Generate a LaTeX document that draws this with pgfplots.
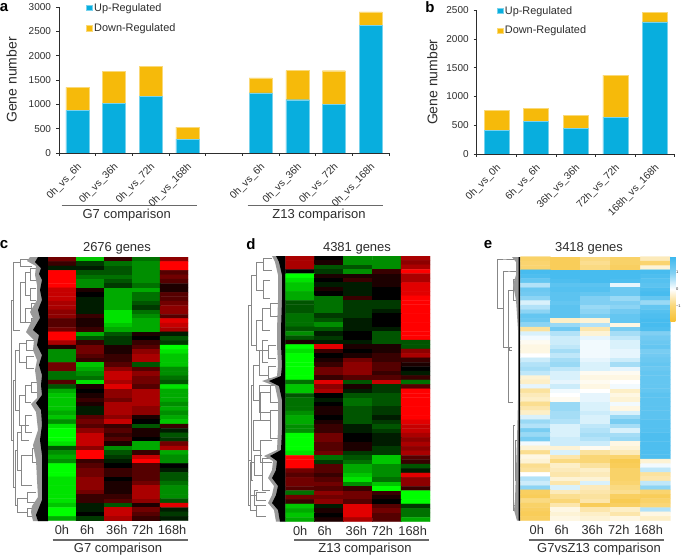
\documentclass[border=0pt]{standalone}
\usepackage{fontspec}
\setmainfont{Liberation Sans}
\usepackage{pgfplots}
\pgfplotsset{compat=1.18}
\definecolor{upblue}{RGB}{8,174,222}
\definecolor{downyel}{RGB}{246,186,10}
\definecolor{ink}{RGB}{45,45,45}
\definecolor{rulegray}{RGB}{105,105,105}
\definecolor{treegray}{RGB}{135,135,135}
\newcommand{\fs}[1]{\fontsize{#1}{#1}\selectfont}
% dendrogram bracket: x left, y top, y bottom, x right (all in image pixels)
\newcommand{\br}[4]{\addplot[treegray,line width=.5pt] coordinates {(#4,#2) (#1,#2) (#1,#3) (#4,#3)};}
\pgfplotsset{
  barpanel/.style={
    scale only axis, ybar stacked, ymin=0, axis x line*=bottom, axis y line*=left,
    axis line style={ink,line width=.6pt}, tick style={ink,line width=.6pt},
    major tick length=3pt, minor tick length=3pt, tick align=outside,
    major x tick style={draw=none},
    tick label style={font=\fs{10},text=ink},
    /pgf/number format/assume math mode=true, /pgf/number format/1000 sep={},
    ylabel style={font=\fs{14},text=ink},
    ylabel={Gene number},
    yticklabel style={xshift=-1.5pt},
    xticklabel style={font=\fs{10.2},rotate=45,anchor=north east,inner sep=1pt,yshift=-3pt,xshift=-4pt},
    legend image code/.code={\fill[##1] (0pt,-2.8pt) rectangle (5.6pt,2.8pt);},
    legend cell align=left,
    legend style={draw=none,fill=none,inner sep=0pt,font=\fs{10.9},text=ink,
      anchor=north west,/tikz/every even column/.style={column sep=0pt}},
  },
  heat/.style={
    scale only axis, axis line style={draw=none}, major tick length=0pt,
    ytick=\empty, y dir=reverse, xmin=-0.5, xmax=4.5,
    enlargelimits=false, axis on top=false,
    xticklabels={0h,6h,36h,72h,168h},
    tick label style={font=\fs{12.8},text=ink},
    xticklabel style={yshift=-2pt,inner sep=2pt},
  },
}
\pgfplotsset{
  colormap={rg}{rgb255=(0,255,0) rgb255=(0,0,0) rgb255=(255,0,0)},
  colormap={by}{rgb255=(247,192,50) rgb255=(250,215,120) rgb255=(255,255,255) rgb255=(130,208,243) rgb255=(60,184,238)},
}
\begin{document}
\begin{tikzpicture}
\path[use as bounding box,fill=white] (0,0) rectangle (685pt,556pt);

% dendrograms, rules and panel text, in image pixels
\begin{axis}[at={(0,0)},anchor=south west,scale only axis,width=685pt,height=556pt,
  xmin=0,xmax=685,ymin=0,ymax=556,y dir=reverse,hide axis,clip=false]
% c
\br{11}{300}{440}{13}
\br{13}{262}{330}{20}
\br{20}{259}{266}{32}
\br{20}{282}{322}{25}
\br{25}{272}{295}{30}
\br{30}{268}{280}{36}
\br{30}{288}{300}{36}
\br{25}{308}{322}{31}
\br{31}{303}{314}{37}
\br{31}{318}{326}{37}
\br{13}{380}{487}{15}
\br{15}{350}{410}{19}
\br{19}{343}{362}{26}
\br{26}{340}{350}{34}
\br{26}{356}{368}{34}
\br{19}{395}{425}{25}
\br{25}{385}{402}{31}
\br{31}{382}{392}{37}
\br{25}{415}{432}{32}
\br{15}{450}{505}{17}
\br{17}{432}{470}{21}
\br{21}{425}{440}{29}
\br{21}{455}{485}{32}
\br{32}{448}{462}{38}
\br{17}{498}{512}{27}
\br{27}{492}{502}{36}
\br{27}{508}{516}{36}
% d
\br{248}{305}{460}{251}
\br{251}{275}{345}{256}
\br{256}{262}{290}{263}
\br{263}{258}{270}{272}
\br{263}{280}{298}{270}
\br{256}{320}{350}{262}
\br{262}{308}{330}{270}
\br{270}{303}{316}{278}
\br{262}{340}{362}{268}
\br{251}{385}{480}{253}
\br{253}{365}{400}{259}
\br{259}{350}{375}{268}
\br{268}{345}{358}{276}
\br{268}{366}{378}{276}
\br{259}{385}{412}{270}
\br{253}{420}{450}{260}
\br{260}{392}{420}{270}
\br{270}{385}{402}{278}
\br{270}{410}{438}{278}
\br{260}{440}{462}{272}
\br{248}{460}{505}{250}
\br{250}{462}{495}{254}
\br{254}{455}{475}{262}
\br{262}{458}{490}{270}
\br{254}{490}{505}{258}
\br{250}{495}{510}{256}
\br{256}{492}{500}{266}
\br{256}{505}{516}{266}
% e
\br{497.3}{259}{308}{503}
\br{503}{271}{347}{508}
\br{497.3}{259}{259}{516}
\br{508}{290}{402}{513}
\br{513}{279}{300}{518}
\br{503}{271}{271}{518}
\br{509}{347}{350}{512}
\br{513}{425}{505}{515}
\br{515}{440}{480}{518}
\br{513}{505}{510}{516}
% leaf fans of c, d, e
\addplot[fill=black!40,draw=none] coordinates {(48,257)(30,257)(27,261)(36,266)(35,275)(37,285)(37,300)(30,312)(33,318)(26,332)(34,340)(33,350)(37,360)(35,370)(37,385)(37,398)(31,404)(36,412)(38,430)(33,445)(36,460)(37,480)(38,497)(32,506)(31,512)(33,521)(48,521)} -- cycle;
\addplot[fill=black,draw=none] coordinates {(48,257)(38,257)(35,262)(41,268)(39,274)(42,280)(40,290)(42,300)(38,310)(40,318)(33,330)(39,335)(37,345)(42,355)(39,365)(42,375)(41,385)(42,395)(36,403)(41,410)(42,425)(40,440)(42,455)(42,470)(42,485)(42,500)(38,510)(36,515)(38,521)(48,521)} -- cycle;
\addplot[fill=black!40,draw=none] coordinates {(285.7,256)(272,256)(275,262)(278,275)(278,300)(277,330)(277,345)(278,365)(277,376)(262,381)(275,386)(278,400)(278,430)(277,450)(264,456)(273,461)(272,470)(268,478)(274,486)(272,495)(268,503)(274,510)(276,521.7)(285.7,521.7)} -- cycle;
\addplot[fill=black,draw=none] coordinates {(285.7,256)(276,256)(279,262)(282,275)(282,300)(281,330)(281,345)(282,365)(281,376)(269,381)(279,386)(282,400)(282,430)(281,450)(270,456)(277,461)(276,470)(272,478)(278,486)(276,495)(272,503)(278,510)(280,521.7)(285.7,521.7)} -- cycle;
\addplot[fill=black!40,draw=none] coordinates {(520.3,257)(512,257)(516,262)(516,275)(513,285)(516,300)(518,330)(518,400)(517,440)(516,470)(515,500)(514,510)(517,520.7)(520.3,520.7)} -- cycle;
\addplot[fill=black,draw=none] coordinates {(520.3,257)(518.5,257)(518.5,300)(518.5,400)(518.5,520.7)(520.3,520.7)} -- cycle;
% rules under the panels
\addplot[rulegray,line width=1.2pt] coordinates {(61.7,205.7) (196.7,205.7)};
\addplot[rulegray,line width=1.2pt] coordinates {(247.7,205.7) (382.7,205.7)};
\addplot[rulegray,line width=1.2pt] coordinates {(52.7,540) (187.7,540)};
\addplot[rulegray,line width=1.2pt] coordinates {(294,540) (429,540)};
\addplot[rulegray,line width=1.2pt] coordinates {(528.7,540) (663.7,540)};
\node[font=\fs{13},text=ink] at (axis cs:126.7,215.5) {G7 comparison};
\node[font=\fs{13},text=ink] at (axis cs:319,215.5) {Z13 comparison};
\node[font=\fs{13},text=ink] at (axis cs:118,549.5) {G7 comparison};
\node[font=\fs{13},text=ink] at (axis cs:365,549.5) {Z13 comparison};
\node[font=\fs{13},text=ink] at (axis cs:599,549.5) {G7vsZ13 comparison};
\node[font=\fs{13},text=ink] at (axis cs:117,248) {2676 genes};
\node[font=\fs{13},text=ink] at (axis cs:357,248) {4381 genes};
\node[font=\fs{13},text=ink] at (axis cs:589,248) {3418 genes};
\node[font=\bfseries\fs{15}] at (axis cs:4,8) {a};
\node[font=\bfseries\fs{15}] at (axis cs:430,7) {b};
\node[font=\bfseries\fs{15}] at (axis cs:4,245) {c};
\node[font=\bfseries\fs{15}] at (axis cs:251,244) {d};
\node[font=\bfseries\fs{15}] at (axis cs:488,245) {e};
\end{axis}

% a
\begin{axis}[barpanel,at={(59pt,403pt)},anchor=south west,width=330pt,height=146pt,
  ymax=3000,ytick={0,500,...,3000},xmin=-0.5,xmax=8.5,bar width=23pt,
  ylabel style={yshift=5pt},
  xtick={0,1,2,3,5,6,7,8},
  xticklabels={0h\_vs\_6h,0h\_vs\_36h,0h\_vs\_72h,0h\_vs\_168h,0h\_vs\_6h,0h\_vs\_36h,0h\_vs\_72h,0h\_vs\_168h},
  minor xtick={-0.5,0.5,...,8.5},
  legend style={at={(27pt,152pt)},row sep=7pt}]
\addplot[fill=upblue,draw=upblue!55!white,line width=.4pt] coordinates {(0,870) (1,1020) (2,1160) (3,285) (5,1235) (6,1095) (7,1005) (8,2620)};
\addplot[fill=downyel,draw=downyel!55!white,line width=.4pt] coordinates {(0,480) (1,660) (2,615) (3,245) (5,310) (6,600) (7,685) (8,280)};
\legend{Up-Regulated,Down-Regulated}
\end{axis}

% b
\begin{axis}[barpanel,at={(476.7pt,402pt)},anchor=south west,width=198pt,height=143.7pt,
  ymax=2500,ytick={0,500,...,2500},xmin=-0.5,xmax=4.5,bar width=25pt,
  ylabel style={yshift=2pt},
  xtick={0,1,2,3,4},
  xticklabels={0h\_vs\_0h,6h\_vs\_6h,36h\_vs\_36h,72h\_vs\_72h,168h\_vs\_168h},
  minor xtick={-0.5,0.5,...,4.5},
  legend style={at={(20pt,150pt)},row sep=6.5pt}]
\addplot[fill=upblue,draw=upblue!55!white,line width=.4pt] coordinates {(0,410) (1,565) (2,445) (3,640) (4,2300)};
\addplot[fill=downyel,draw=downyel!55!white,line width=.4pt] coordinates {(0,350) (1,225) (2,230) (3,730) (4,165)};
\legend{Up-Regulated,Down-Regulated}
\end{axis}

% c
\begin{axis}[heat,at={(48pt,35.3pt)},anchor=south west,width=140pt,height=263.5pt,
  ymin=-0.5,ymax=59.5,colormap name=rg,point meta min=-9,point meta max=9,
  xtick={0,0.9,1.96,2.88,3.93}]
\addplot[matrix plot*,mesh/cols=5,point meta=explicit] table[header=false,row sep=\\,x expr={mod(\coordindex,5)},y expr={floor((\coordindex+0.5)/5)},meta index=0] {
4\\-7\\2\\-4\\5\\
2\\-2\\-4\\-5\\9\\
-1\\-1\\-3\\-5\\9\\
9\\-3\\-3\\-5\\3\\
9\\-4\\-4\\-5\\4\\
9\\-5\\-3\\-5\\3\\
9\\-5\\-2\\-4\\1\\
7\\1\\-6\\-6\\1\\
7\\0\\-6\\-4\\3\\
7\\-1\\-6\\-4\\3\\
6\\-1\\-6\\-3\\4\\
6\\-1\\-6\\-2\\5\\
5\\-1\\-8\\-4\\5\\
5\\2\\-8\\-5\\3\\
3\\1\\-8\\-6\\8\\
3\\1\\-7\\-6\\7\\
4\\2\\-6\\-6\\6\\
9\\-6\\-3\\1\\-1\\
9\\-3\\-2\\0\\-3\\
6\\2\\-2\\2\\-2\\
1\\4\\1\\3\\-9\\
-5\\4\\1\\5\\-8\\
-5\\3\\2\\6\\-7\\
-5\\2\\2\\6\\-7\\
4\\-7\\3\\-3\\-7\\
4\\-6\\5\\3\\-5\\
-4\\-5\\7\\5\\-5\\
-4\\-4\\7\\4\\-4\\
3\\-8\\6\\4\\-3\\
-3\\1\\8\\3\\-8\\
-6\\0\\5\\6\\-6\\
-7\\1\\5\\6\\-6\\
-7\\2\\4\\6\\-6\\
-7\\1\\6\\6\\-5\\
-7\\-1\\6\\5\\-6\\
-6\\-1\\6\\5\\-5\\
-7\\3\\5\\1\\-6\\
-5\\4\\7\\0\\-7\\
-8\\3\\2\\-3\\2\\
-9\\5\\3\\1\\-1\\
-9\\7\\2\\1\\-3\\
-9\\7\\3\\0\\-2\\
-8\\7\\1\\-6\\4\\
-3\\5\\-5\\-6\\6\\
-5\\9\\-3\\2\\-6\\
-6\\9\\-2\\7\\-5\\
-5\\2\\-1\\9\\-5\\
-9\\3\\0\\3\\0\\
-9\\4\\2\\3\\-1\\
-9\\4\\2\\3\\-3\\
-8\\5\\0\\3\\-3\\
-8\\5\\1\\4\\-4\\
-8\\5\\1\\6\\-5\\
-8\\4\\1\\6\\-5\\
-8\\2\\2\\6\\-5\\
-8\\2\\3\\5\\-3\\
-7\\-1\\-3\\1\\8\\
-9\\-1\\7\\4\\-1\\
-9\\0\\7\\3\\-2\\
-6\\-2\\6\\2\\-1\\
};
\end{axis}

% d
\begin{axis}[heat,at={(285.7pt,34.3pt)},anchor=south west,width=144.3pt,height=265.7pt,
  ymin=-0.5,ymax=59.5,colormap name=rg,point meta min=-9,point meta max=9,
  xtick={0,0.85,1.95,2.85,3.9}]
\addplot[matrix plot*,mesh/cols=5,point meta=explicit] table[header=false,row sep=\\,x expr={mod(\coordindex,5)},y expr={floor((\coordindex+0.5)/5)},meta index=0] {
6\\0\\-5\\-5\\6\\
6\\1\\-5\\-5\\5\\
6\\-3\\-3\\-5\\6\\
0\\-2\\-5\\2\\9\\
-9\\1\\1\\1\\6\\
-8\\0\\2\\1\\6\\
-7\\-1\\-1\\1\\8\\
-7\\1\\-1\\0\\8\\
-6\\0\\-1\\0\\8\\
-6\\-4\\2\\0\\9\\
-3\\-4\\-2\\-2\\9\\
-3\\-4\\-2\\-2\\9\\
-3\\-4\\-2\\-1\\9\\
-4\\-2\\-2\\0\\9\\
-4\\-3\\-1\\0\\9\\
-4\\-5\\-1\\0\\9\\
-3\\-3\\-1\\-1\\9\\
-5\\-1\\0\\-3\\9\\
-3\\-2\\0\\-3\\9\\
1\\-1\\-1\\-3\\-3\\
-9\\8\\1\\1\\-3\\
-8\\2\\0\\1\\5\\
-9\\0\\1\\2\\6\\
-9\\1\\4\\2\\2\\
-9\\2\\5\\3\\1\\
-9\\4\\5\\3\\0\\
-9\\4\\5\\2\\-1\\
-9\\2\\3\\3\\2\\
-4\\8\\-3\\7\\-4\\
-7\\5\\1\\-2\\3\\
-7\\6\\-1\\-2\\9\\
-3\\0\\-3\\-3\\9\\
-4\\-1\\-4\\-3\\9\\
-4\\0\\-4\\-3\\9\\
-4\\1\\-3\\-2\\9\\
-5\\1\\-3\\-2\\9\\
-6\\0\\-3\\-1\\9\\
-6\\1\\-3\\-2\\8\\
-5\\2\\-1\\-3\\7\\
-5\\2\\-1\\-2\\7\\
-9\\4\\0\\-1\\6\\
-9\\4\\0\\-1\\5\\
-9\\3\\1\\-1\\6\\
-9\\3\\1\\-2\\5\\
-8\\4\\-2\\-2\\6\\
9\\-4\\-3\\-7\\3\\
9\\-2\\-4\\-7\\2\\
9\\3\\-6\\-5\\-3\\
4\\3\\-6\\-5\\-1\\
3\\2\\-7\\-5\\8\\
4\\3\\-8\\-4\\5\\
4\\4\\-5\\-7\\5\\
3\\3\\2\\-9\\2\\
-4\\5\\4\\2\\-9\\
4\\4\\4\\1\\-9\\
2\\5\\3\\0\\-9\\
-7\\-1\\8\\3\\-2\\
-6\\1\\8\\4\\-4\\
-7\\0\\8\\3\\-4\\
-6\\1\\6\\3\\-6\\
};
\end{axis}

% e
\begin{axis}[heat,at={(520.3pt,35.3pt)},anchor=south west,width=150pt,height=264pt,
  ymin=-0.5,ymax=59.5,colormap name=by,point meta min=-19.5,point meta max=19.5,
  xtick={0.05,0.88,1.9,2.78,3.78},
  colorbar,colorbar style={at={(1,1)},anchor=north west,xshift=3pt,scale only axis,
    width=5pt,height=65pt,ytick={-10,0,10},yticklabels={−1,0,1},
    yticklabel pos=right,axis line style={draw=none},major tick length=0pt,
    tick label style={font=\fs{4},text=ink,inner sep=.5pt}}]
\addplot[matrix plot*,mesh/cols=5,point meta=explicit] table[header=false,row sep=\\,x expr={mod(\coordindex,5)},y expr={floor((\coordindex+0.5)/5)},meta index=0] {
-12\\-14\\-9\\-12\\-5\\
-11\\-14\\-8\\-12\\-11\\
-11\\-14\\-9\\-13\\-3\\
18\\18\\18\\18\\18\\
17\\18\\18\\18\\17\\
14\\17\\18\\17\\16\\
6\\15\\15\\2\\15\\
13\\16\\16\\13\\17\\
12\\15\\14\\13\\18\\
9\\15\\10\\8\\14\\
3\\14\\10\\10\\8\\
6\\15\\8\\9\\14\\
9\\15\\9\\12\\16\\
14\\15\\11\\14\\17\\
13\\-4\\-3\\14\\18\\
9\\8\\6\\-2\\18\\
-7\\12\\-6\\11\\17\\
3\\6\\-3\\7\\10\\
1\\4\\2\\5\\12\\
-1\\4\\1\\3\\13\\
-2\\5\\1\\3\\14\\
-2\\7\\1\\2\\11\\
0\\5\\1\\2\\12\\
4\\7\\2\\4\\13\\
6\\8\\3\\7\\14\\
7\\5\\3\\2\\13\\
5\\3\\-1\\-1\\14\\
-3\\3\\-2\\-2\\14\\
-4\\2\\-1\\0\\14\\
2\\4\\-2\\1\\14\\
-7\\1\\0\\-4\\14\\
-5\\0\\2\\-2\\15\\
-4\\-1\\2\\-3\\15\\
-8\\8\\3\\1\\15\\
-6\\8\\3\\-2\\15\\
-4\\7\\4\\3\\15\\
3\\7\\3\\8\\15\\
8\\6\\3\\11\\16\\
6\\3\\5\\7\\16\\
11\\3\\6\\3\\16\\
8\\3\\7\\7\\17\\
11\\4\\6\\8\\17\\
1\\4\\4\\-2\\17\\
-3\\-3\\-1\\-3\\17\\
-8\\3\\-7\\-5\\17\\
-2\\-6\\-10\\-11\\17\\
-3\\-9\\-10\\-15\\-3\\
-8\\-4\\-7\\-14\\1\\
-7\\-5\\-4\\-12\\5\\
0\\-6\\-5\\-12\\-7\\
6\\-3\\-3\\-12\\-6\\
4\\-6\\3\\-11\\5\\
9\\3\\-5\\-9\\9\\
-13\\-5\\-6\\-8\\-11\\
-14\\-8\\-7\\-13\\-14\\
-9\\-10\\-6\\-15\\-12\\
-12\\-6\\-14\\-13\\-10\\
-13\\-2\\-6\\-4\\6\\
-14\\-3\\-4\\-6\\-2\\
-13\\-2\\-3\\-2\\-4\\
};
\end{axis}
\end{tikzpicture}
\end{document}
